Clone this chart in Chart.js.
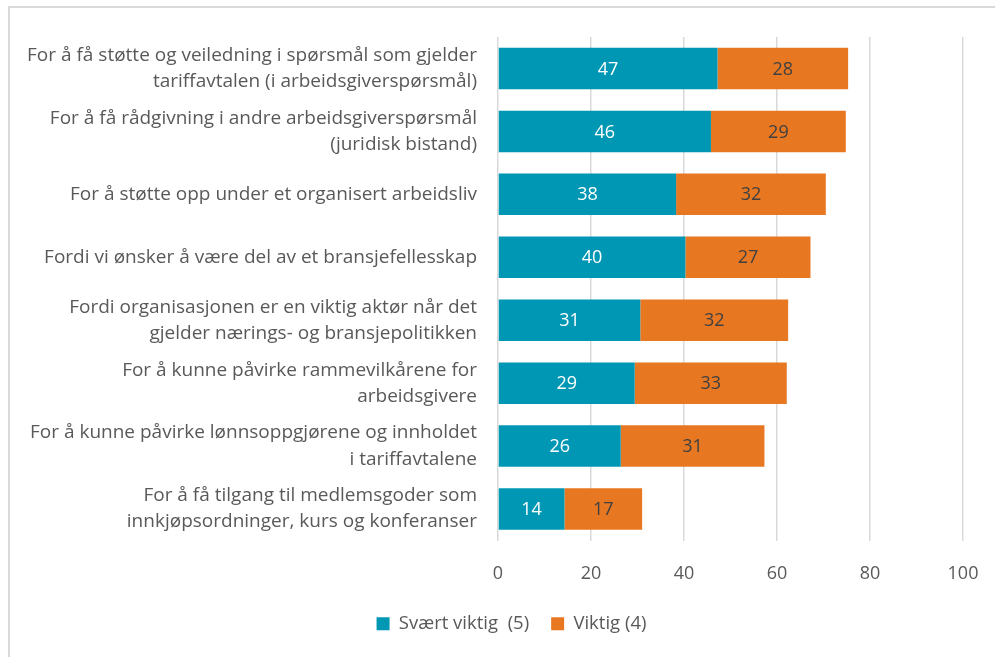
<!DOCTYPE html>
<html>
<head>
<meta charset="utf-8">
<script src="https://cdn.jsdelivr.net/npm/chart.js@4"></script>
<style>
  html, body { margin: 0; padding: 0; background: #fff; }
  #wrap { width: 995px; height: 657px; position: relative; }
</style>
</head>
<body>
<div id="wrap"><canvas id="myChart"></canvas></div>
<script>
// data (bar lengths estimated, labels show rounded values)
var categories = [
    ["For å få støtte og veiledning i spørsmål som gjelder", "tariffavtalen (i arbeidsgiverspørsmål)"],
    ["For å få rådgivning i andre arbeidsgiverspørsmål", "(juridisk bistand)"],
    "For å støtte opp under et organisert arbeidsliv",
    "Fordi vi ønsker å være del av et bransjefellesskap",
    ["Fordi organisasjonen er en viktig aktør når det", "gjelder nærings- og bransjepolitikken"],
    ["For å kunne påvirke rammevilkårene for", "arbeidsgivere"],
    ["For å kunne påvirke lønnsoppgjørene og innholdet", "i tariffavtalene"],
    ["For å få tilgang til medlemsgoder som", "innkjøpsordninger, kurs og konferanser"]
];
var seriesNames = ["Svært viktig  (5)", "Viktig (4)"];
var sværtViktig = [47.2, 45.8, 38.3, 40.3, 30.6, 29.4, 26.4, 14.3];
var viktig = [28.1, 29.0, 32.2, 26.9, 31.8, 32.7, 30.9, 16.7];
var xTicks = [0, 20, 40, 60, 80, 100];

var FONT = "'Open Sans', Lato, sans-serif";
var textColor = '#595959';

// frame lines (top + left only, like the reference)
var framePlugin = {
    id: 'frame',
    afterLayout: function(chart) {
        // legend sits a bit right of the canvas centre in the original
        chart.legend.left += 30;
        chart.legend.right += 30;
    },
    beforeDraw: function(chart) {
        var c = chart.ctx;
        c.save();
        c.strokeStyle = '#d9d9d9';
        c.lineWidth = 2;
        c.beginPath();
        c.moveTo(995, 7);
        c.lineTo(9, 7);
        c.lineTo(9, 657);
        c.stroke();
        c.restore();
    }
};

// value labels in the middle of each segment
var valuePlugin = {
    id: 'values',
    afterDatasetsDraw: function(chart) {
        var c = chart.ctx;
        c.save();
        c.font = '18px ' + FONT;
        c.textAlign = 'center';
        c.textBaseline = 'middle';
        chart.data.datasets.forEach(function(ds, i) {
            var meta = chart.getDatasetMeta(i);
            c.fillStyle = i === 0 ? '#ffffff' : '#404040';
            meta.data.forEach(function(bar, j) {
                var p = bar.getProps(['x', 'y', 'base'], true);
                c.fillText(Math.round(ds.data[j]), (p.x + p.base) / 2, p.y + 1);
            });
        });
        c.restore();
    }
};

var ctx = document.getElementById("myChart");
var myChart = new Chart(ctx, {
    type: 'bar',
    data: {
        labels: categories,
        datasets: [
            {
                label: seriesNames[0],
                data: sværtViktig,
                backgroundColor: '#0097b4',
                borderWidth: 0,
                barPercentage: 0.66,
                categoryPercentage: 1
            },
            {
                label: seriesNames[1],
                data: viktig,
                backgroundColor: '#e87722',
                borderWidth: 0,
                barPercentage: 0.66,
                categoryPercentage: 1
            }
        ]
    },
    options: {
        indexAxis: 'y',
        responsive: true,
        maintainAspectRatio: false,
        animation: false,
        layout: {
            padding: { left: 0, right: 32, top: 37, bottom: 14 }
        },
        scales: {
            x: {
                stacked: true,
                min: 0,
                max: 100,
                afterBuildTicks: function(scale) {
                    scale.ticks = xTicks.map(function(v) { return { value: v }; });
                },
                afterFit: function(scale) {
                    scale.height = 52;
                    scale.paddingLeft = 0;
                    scale.paddingRight = 0;
                },
                grid: { color: '#d9d9d9', lineWidth: 1.5, drawTicks: false },
                border: { display: false },
                ticks: {
                    color: textColor,
                    padding: 23,
                    font: { family: FONT, size: 18 }
                }
            },
            y: {
                stacked: true,
                afterFit: function(scale) {
                    scale.width = 498;
                    scale.paddingTop = 0;
                    scale.paddingBottom = 0;
                },
                grid: { display: false },
                border: { display: false },
                ticks: {
                    color: textColor,
                    padding: 13,
                    font: { family: FONT, size: 19, lineHeight: 1.37 }
                }
            }
        },
        plugins: {
            legend: {
                position: 'bottom',
                labels: {
                    color: textColor,
                    boxWidth: 13,
                    boxHeight: 13,
                    padding: 22,
                    font: { family: FONT, size: 18.5 }
                }
            },
            tooltip: { enabled: false }
        }
    },
    plugins: [framePlugin, valuePlugin]
});
</script>
</body>
</html>
